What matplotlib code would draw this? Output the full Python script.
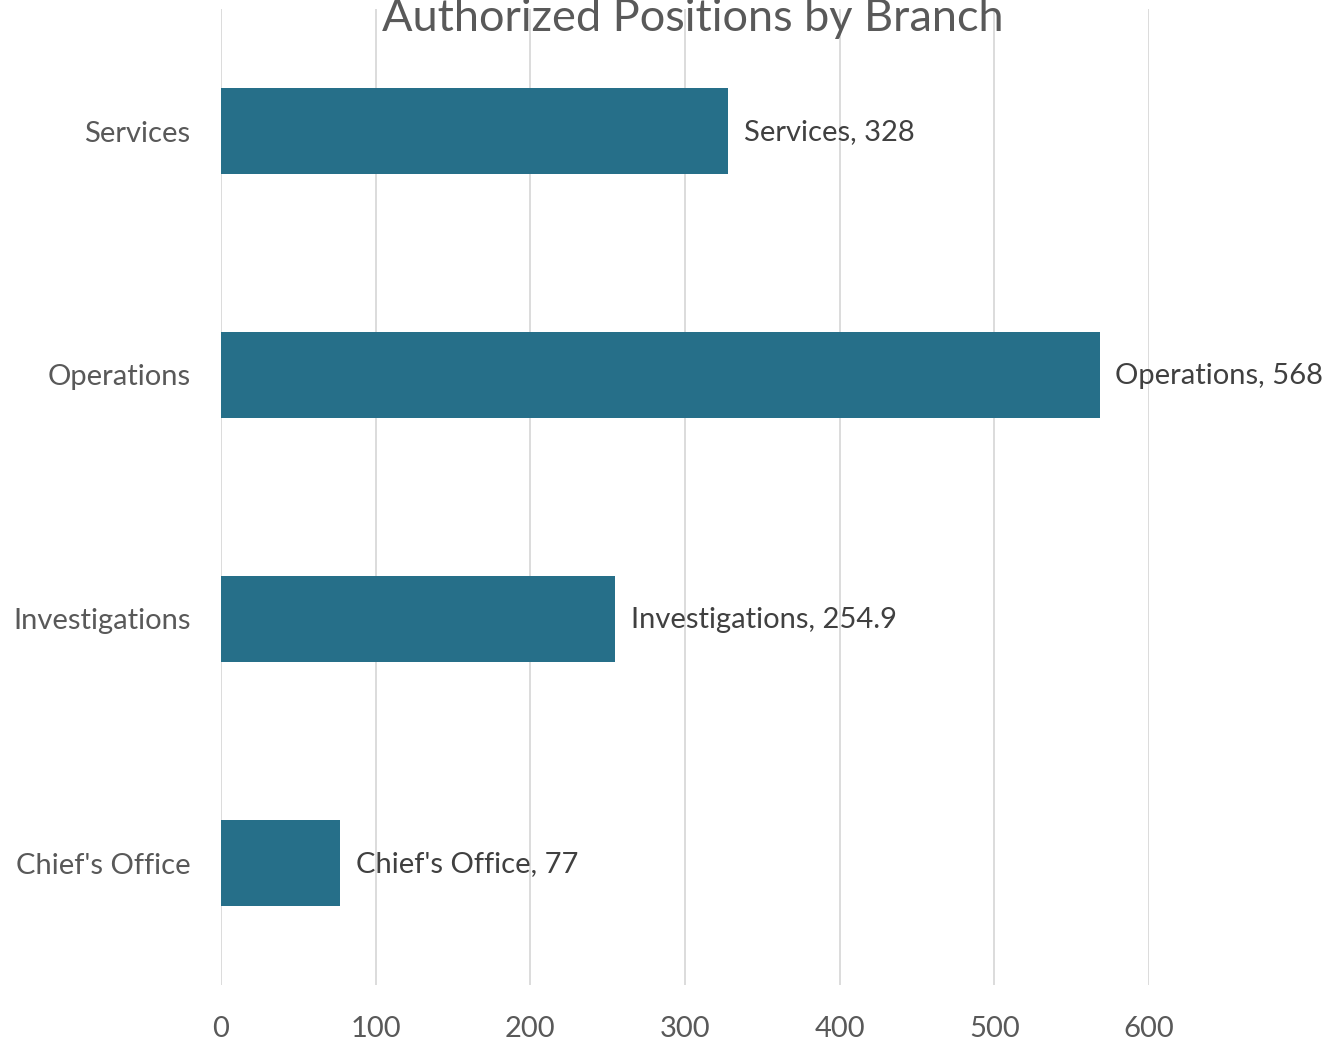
import matplotlib
matplotlib.use("Agg")
import matplotlib.pyplot as plt

# Authorized positions per branch
branches = ["Chief's Office", "Investigations", "Operations", "Services"]
positions = [77, 254.9, 568, 328]
value_labels = ["77", "254.9", "568", "328"]
x_ticks = [0, 100, 200, 300, 400, 500, 600]

plt.rcParams['font.family'] = ['Lato', 'DejaVu Sans']

fig = plt.figure(figsize=(13.36, 10.40), dpi=100)
ax = fig.add_axes([221 / 1336, 55 / 1040, 928 / 1336, 976 / 1040])

bar_color = "#266F89"
ypos = list(range(len(branches)))
ax.barh(ypos, positions, height=0.355, color=bar_color, zorder=3)

ax.set_xlim(0, 600)
ax.set_ylim(-0.5, len(branches) - 0.5)
ax.set_xticks(x_ticks)
ax.set_xticklabels([str(t) for t in x_ticks])
ax.set_yticks(ypos)
ax.set_yticklabels(branches)

ax.grid(axis="x", color="#D9D9D9", linewidth=1.3, zorder=0)
ax.grid(axis="y", visible=False)
for s in ax.spines.values():
    s.set_visible(False)

ax.tick_params(axis="x", length=0, pad=22, labelsize=21, labelcolor="#595959")
ax.tick_params(axis="y", length=0, pad=22, labelsize=21, labelcolor="#595959")

for y, v, name, lab in zip(ypos, positions, branches, value_labels):
    ax.annotate(f"{name}, {lab}", xy=(v, y), xytext=(11.5, -1),
                textcoords="offset points", va="center", ha="left",
                fontsize=21, color="#404040", annotation_clip=False,
                clip_on=False)

fig.text(693 / 1336, 1 - 31 / 1040, "Authorized Positions by Branch",
         ha="center", va="baseline", fontsize=32.5, color="#595959")

fig.savefig("out.png", dpi=100, facecolor="white")
